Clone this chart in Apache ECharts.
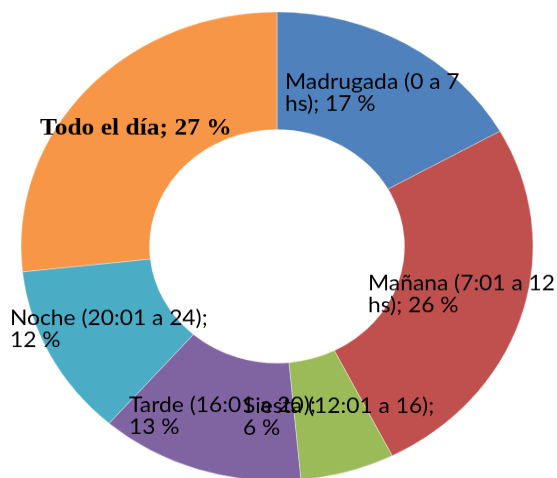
<!DOCTYPE html>
<html>
<head>
<meta charset="utf-8">
<script src="https://cdn.jsdelivr.net/npm/echarts@6/dist/echarts.min.js"></script>
<style>
  html, body { margin: 0; padding: 0; background: #ffffff; }
  #wrap { width: 557px; height: 478px; overflow: hidden; position: relative; }
  #chart { width: 557px; height: 522px; transform: scaleY(0.9157); transform-origin: 0 0; }
</style>
</head>
<body>
<div id="wrap"><div id="chart"></div></div>
<script>
// Data
var categories = [
  'Madrugada (0 a 7\nhs)',
  'Mañana (7:01 a 12\nhs)',
  'Siesta (12:01 a 16)',
  'Tarde (16:01 a 20)',
  'Noche (20:01 a 24)',
  'Todo el día'
];
var percents = [17, 26, 6, 13, 12, 27];
var colors = ['#4F81BD', '#C0504D', '#9BBB59', '#8064A2', '#4BACC6', '#F79646'];

// label anchor positions (unscaled chart coordinates: left x, middle y)
var labelPos = [
  [285, 102],
  [368, 322],
  [243, 456],
  [129, 455],
  [10, 360],
  [40, 140]
];

var chart = echarts.init(document.getElementById('chart'), null, { renderer: 'canvas' });

var dataItems = categories.map(function (c, i) {
  var item = { name: c, value: percents[i], itemStyle: { color: colors[i] } };
  if (c === 'Todo el día') {
    item.label = {
      fontFamily: 'Liberation Serif',
      fontWeight: 'bold',
      fontSize: 25.5
    };
  }
  return item;
});

chart.setOption({
  animation: false,
  backgroundColor: '#ffffff',
  series: [{
    type: 'pie',
    center: [277, 269],
    radius: [127.5, 256],
    startAngle: 90,
    clockwise: true,
    avoidLabelOverlap: false,
    itemStyle: { borderColor: 'rgba(255,255,255,0.6)', borderWidth: 0.6 },
    label: {
      show: true,
      position: 'inside',
      color: '#000000',
      fontFamily: 'Lato',
      fontSize: 22.8,
      lineHeight: 24,
      align: 'left',
      formatter: function (p) {
        var n = p.name;
        if (n.indexOf('\n') >= 0 || n === 'Todo el día') {
          return n + '; ' + p.value + ' %';
        }
        return n + ';\n' + p.value + ' %';
      }
    },
    labelLine: { show: false },
    labelLayout: function (params) {
      var pos = labelPos[params.dataIndex];
      return { x: pos[0], y: pos[1], align: 'left', verticalAlign: 'middle', hideOverlap: false };
    },
    data: dataItems
  }]
});
</script>
</body>
</html>
